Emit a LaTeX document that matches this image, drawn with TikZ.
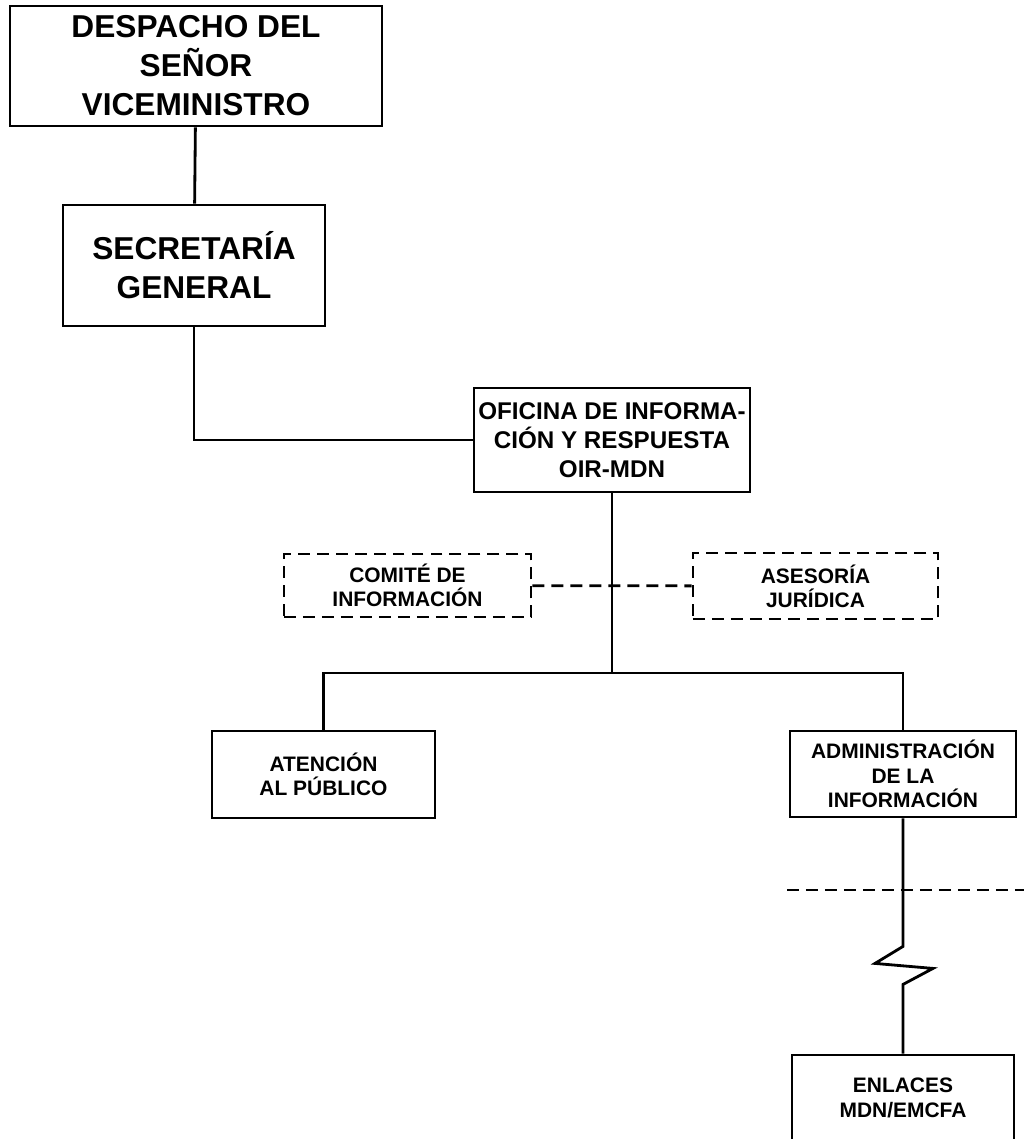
\documentclass[tikz,border=0pt]{standalone}
\usepackage{fontspec}
\setmainfont{Liberation Sans}
\tikzstyle{headbox} = [rectangle, draw=black, line width=2pt, align=center, inner sep=1pt, font=\bfseries\fontsize{22.5}{27.7}\selectfont]
\tikzstyle{officebox} = [headbox, font=\bfseries\fontsize{17.2}{20.6}\selectfont]
\tikzstyle{areabox} = [headbox, font=\bfseries\fontsize{14.9}{17.3}\selectfont]
\tikzstyle{advisorbox} = [areabox, dash pattern=on 8.5pt off 5pt]
\tikzstyle{link} = [line width=2pt]
\tikzstyle{dashlink} = [link, dash pattern=on 8.5pt off 5pt]

\begin{document}
\begin{tikzpicture}[x=0.025cm, y=-0.025cm]
        \useasboundingbox (0,0) rectangle (1024,1139);
        \node (despacho) [headbox, minimum width=9.3cm, minimum height=3cm] at (196,66) {DESPACHO DEL\\SEÑOR\\VICEMINISTRO};
        \node (secretaria) [headbox, minimum width=6.55cm, minimum height=3.025cm] at (194,265.5) {SECRETARÍA\\GENERAL};
        \node (oficina) [officebox, minimum width=6.9cm, minimum height=2.6cm] at (612,440) {OFICINA DE INFORMA-\\CIÓN Y RESPUESTA\\OIR-MDN};
        \node (comite) [advisorbox, minimum width=6.175cm, minimum height=1.575cm] at (407.5,585.5) {COMITÉ DE\\INFORMACIÓN};
        \node (asesoria) [advisorbox, minimum width=6.125cm, minimum height=1.65cm] at (815.5,586) {ASESORÍA\\JURÍDICA};
        \node (atencion) [areabox, minimum width=5.575cm, minimum height=2.175cm] at (323.5,774.5) {ATENCIÓN\\AL PÚBLICO};
        \node (admin) [areabox, minimum width=5.65cm, minimum height=2.15cm] at (903,774) {ADMINISTRACIÓN\\DE LA\\INFORMACIÓN};
        \node (enlaces) [areabox, minimum width=5.55cm, minimum height=2.15cm] at (903,1098) {ENLACES\\MDN/EMCFA};
        \coordinate (split) at (612,673);
        \coordinate (cutL) at (787,890);
        \coordinate (cutR) at (1024,890);

        \draw [link] (despacho) -- (secretaria);
        \draw [link] (secretaria.south) |- (oficina.west);
        \draw [link] (oficina) -- (split);
        \draw [link] (atencion) |- (split) -| (admin);
        \draw [dashlink] (comite) -- (asesoria);
        \draw [dashlink] (cutL) -- (cutR);
        \draw [link] (admin.south) -- ++(0,128) -- ++(-28,17) -- ++(58,5) -- ++(-30,16) -- (enlaces);
    \end{tikzpicture}
\end{document}
